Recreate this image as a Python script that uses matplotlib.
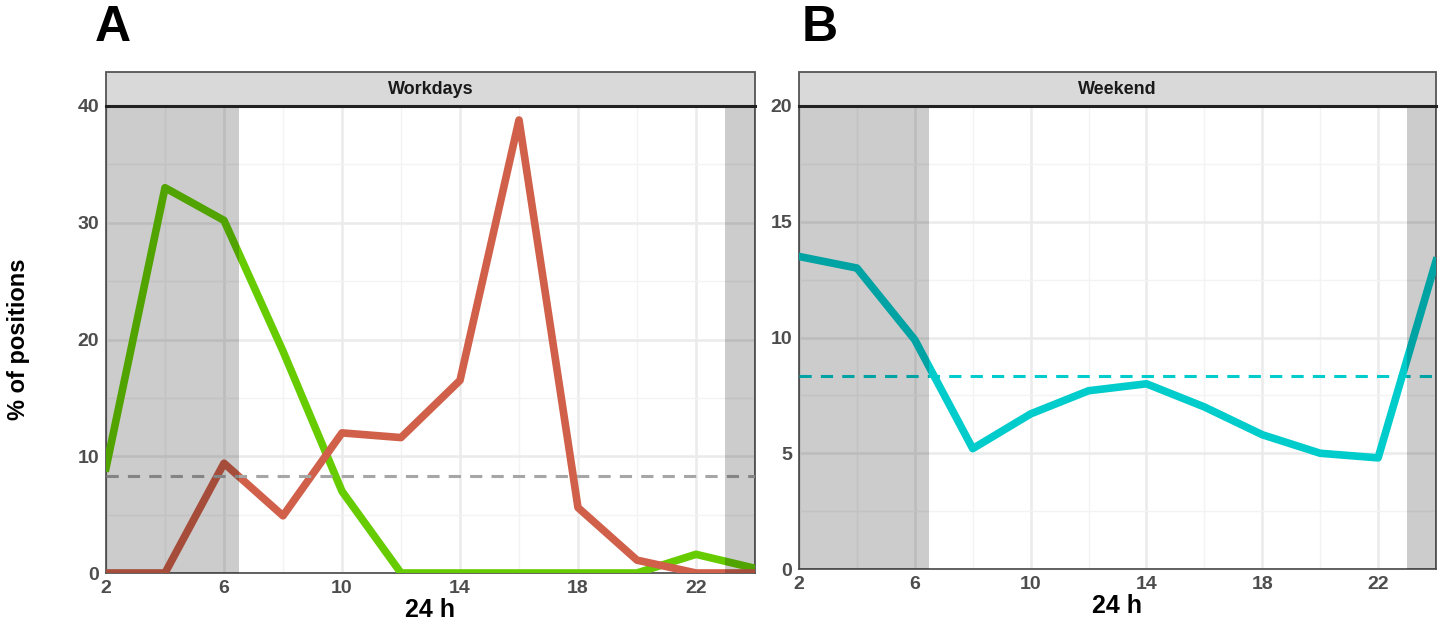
import matplotlib
matplotlib.use("Agg")
from matplotlib import pyplot as plt
from matplotlib.patches import Rectangle
from matplotlib.ticker import MultipleLocator

hours = [2, 4, 6, 8, 10, 12, 14, 16, 18, 20, 22, 24]
work_green = [9.0, 33.0, 30.2, 19.0, 7.0, 0.0, 0.0, 0.0, 0.0, 0.0, 1.6, 0.4]
work_red = [0.0, 0.0, 9.4, 4.9, 12.0, 11.6, 16.5, 38.8, 5.6, 1.1, 0.0, 0.0]
weekend_cyan = [13.5, 13.0, 9.9, 5.2, 6.7, 7.7, 8.0, 7.0, 5.8, 5.0, 4.8, 13.3]
mean_level = 100 / 12
night_spans = [(2, 6.5), (23, 24)]
xticks = [2, 6, 10, 14, 18, 22]

tick_font = ['Liberation Sans Narrow', 'Liberation Sans', 'DejaVu Sans']
main_font = ['Liberation Sans', 'DejaVu Sans']

fig = plt.figure(figsize=(14.52, 6.29), dpi=100)
W, H = 1452, 629


def make_ax(x0, x1, y_bot, y_top):
    return fig.add_axes([x0 / W, 1 - y_bot / H, (x1 - x0) / W, (y_bot - y_top) / H])


def style(ax, ymax, ymajor, title, strip_px):
    ax.set_xlim(2, 24)
    ax.set_ylim(0, ymax)
    ax.set_xticks(xticks)
    ax.xaxis.set_minor_locator(MultipleLocator(2))
    ax.yaxis.set_major_locator(MultipleLocator(ymajor))
    ax.yaxis.set_minor_locator(MultipleLocator(ymajor / 2))
    ax.grid(which='major', color='#ebebeb', linewidth=1.8, zorder=0)
    ax.grid(which='minor', color='#f3f3f3', linewidth=1.0, zorder=0)
    ax.set_axisbelow(True)
    ax.tick_params(which='both', length=0, pad=5)
    for lab in ax.get_xticklabels() + ax.get_yticklabels():
        lab.set_family(tick_font)
        lab.set_fontsize(14)
        lab.set_color('#4d4d4d')
        lab.set_fontweight('bold')
    for s in ax.spines.values():
        s.set_color('#555555')
        s.set_linewidth(1.3)
    for a, b in night_spans:
        ax.axvspan(a, b, color='black', alpha=0.2, linewidth=0, zorder=5)
    h = strip_px / ax.bbox.height
    ax.add_patch(Rectangle((0, 1), 1, h, transform=ax.transAxes, clip_on=False,
                           facecolor='#d9d9d9', edgecolor='#555555', linewidth=1.3, zorder=6))
    ax.plot([0, 1], [1, 1], transform=ax.transAxes, color='#222222', linewidth=2.2,
            clip_on=False, zorder=7)
    ax.text(0.5, 1 + h / 2, title, transform=ax.transAxes, ha='center', va='center',
            fontsize=13, fontweight='bold', family=main_font, color='#1a1a1a', zorder=8)
    ax.set_xlabel('24 h', fontsize=18, fontweight='bold', family=main_font, labelpad=1)


# panel A
axA = make_ax(106, 755, 573, 106)
axA.plot(hours, work_green, color='#66cc00', linewidth=5.5, zorder=3, solid_joinstyle='round')
axA.plot(hours, work_red, color='#d0604a', linewidth=5.5, zorder=3, solid_joinstyle='round')
axA.axhline(mean_level, color='#a6a6a6', linewidth=2.2, linestyle=(0, (4, 3)), zorder=4)
style(axA, 40, 10, 'Workdays', 34)
axA.set_ylabel('% of positions', fontsize=17, fontweight='bold', family=main_font, labelpad=34)

# panel B
axB = make_ax(799, 1436, 569, 106)
axB.plot(hours, weekend_cyan, color='#00cccc', linewidth=5.5, zorder=3, solid_joinstyle='round')
axB.axhline(mean_level, color='#00cccc', linewidth=2.2, linestyle=(0, (4, 3)), zorder=4)
style(axB, 20, 5, 'Weekend', 34)

fig.text(95 / W, 1 - 28 / H, 'A', fontsize=36, fontweight='bold', family=main_font, va='center')
fig.text(802 / W, 1 - 28 / H, 'B', fontsize=36, fontweight='bold', family=main_font, va='center')

fig.savefig('out.png', dpi=100)
